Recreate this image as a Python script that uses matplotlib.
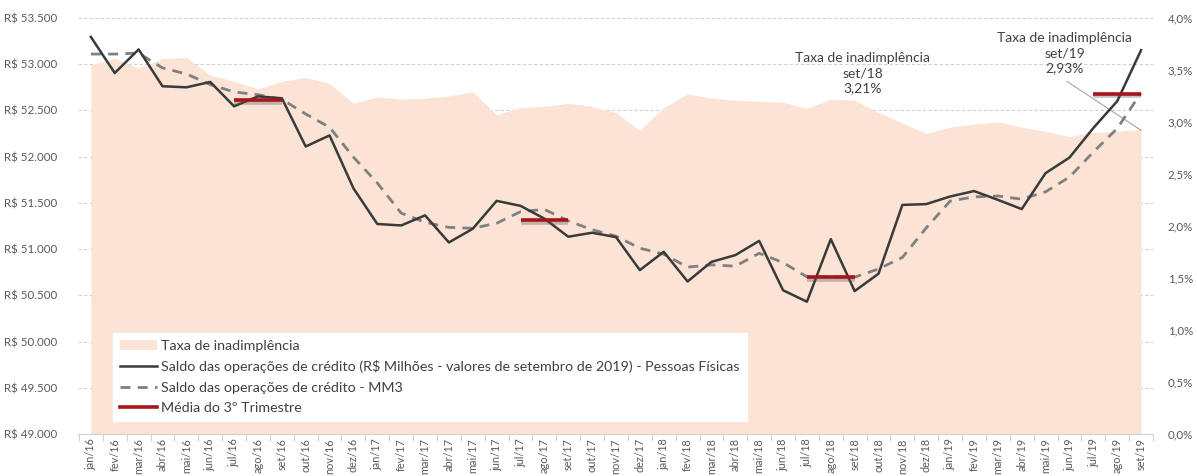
import matplotlib
matplotlib.use("Agg")
import matplotlib.pyplot as plt
from matplotlib.lines import Line2D
from matplotlib.patches import Patch
from matplotlib.transforms import blended_transform_factory
import matplotlib.patheffects as pe

plt.rcParams['font.family'] = ['Lato', 'DejaVu Sans']

meses = ["jan/16", "fev/16", "mar/16", "abr/16", "mai/16", "jun/16", "jul/16", "ago/16", "set/16",
         "out/16", "nov/16", "dez/16", "jan/17", "fev/17", "mar/17", "abr/17", "mai/17", "jun/17",
         "jul/17", "ago/17", "set/17", "out/17", "nov/17", "dez/17", "jan/18", "fev/18", "mar/18",
         "abr/18", "mai/18", "jun/18", "jul/18", "ago/18", "set/18", "out/18", "nov/18", "dez/18",
         "jan/19", "fev/19", "mar/19", "abr/19", "mai/19", "jun/19", "jul/19", "ago/19", "set/19"]

saldo = [53295, 52905, 53160, 52762, 52750, 52808, 52545, 52652, 52632, 52110, 52230, 51658,
         51272, 51256, 51365, 51072, 51220, 51522, 51468, 51330, 51134, 51177, 51130, 50773,
         50971, 50650, 50862, 50935, 51089, 50555, 50431, 51108, 50546, 50734, 51478, 51487,
         51569, 51628, 51533, 51433, 51822, 51990, 52310, 52600, 53152]

mm3 = [53110, 53110, 53120, 52960, 52895, 52780, 52700, 52670, 52620, 52462, 52318, 51995,
       51715, 51390, 51290, 51235, 51225, 51280, 51405, 51430, 51305, 51210, 51140, 51010,
       50945, 50805, 50830, 50815, 50955, 50855, 50700, 50700, 50697, 50785, 50910, 51230,
       51520, 51565, 51575, 51540, 51620, 51780, 52050, 52305, 52690]

taxa = [3.55, 3.61, 3.52, 3.61, 3.62, 3.45, 3.39, 3.32, 3.39, 3.43, 3.37, 3.18,
        3.24, 3.22, 3.23, 3.25, 3.29, 3.07, 3.14, 3.15, 3.18, 3.15, 3.09, 2.92,
        3.14, 3.27, 3.23, 3.21, 3.20, 3.19, 3.13, 3.22, 3.21, 3.09, 2.99, 2.89,
        2.95, 2.98, 3.00, 2.95, 2.91, 2.86, 2.90, 2.91, 2.93]

media_inicio = [6, 18, 30, 42]
media_fim = [8, 20, 32, 44]
media_valor = [52612, 51312, 50700, 52682]

left_ticks = [49000, 49500, 50000, 50500, 51000, 51500, 52000, 52500, 53000, 53500]
right_ticks = [0.0, 0.5, 1.0, 1.5, 2.0, 2.5, 3.0, 3.5, 4.0]

TXT = "#404040"
TICK = "#595959"
PEACH = "#FBE4D6"

fig = plt.figure(figsize=(11.97, 4.76), dpi=100)
ax = fig.add_axes([78/1197, 42/476, 1075/1197, 416/476])
ax2 = ax.twinx()

x = list(range(len(meses)))

# area (right axis)
ax.fill_between(x, taxa, 0, color=PEACH, linewidth=0, zorder=2)
ax.set_ylim(0, 4.0)
ax.set_xlim(-0.54, 44.33)
ax.yaxis.tick_right()
ax.set_yticks(right_ticks)
ax.set_yticklabels([("%.1f%%" % v).replace(".", ",") for v in right_ticks])
ax.tick_params(axis='y', length=0, pad=10.5, labelsize=8.3, labelcolor=TICK)

# lines (left axis)
ax2.set_ylim(49000, 53500)
ax2.yaxis.tick_left()
ax2.set_yticks(left_ticks)
ax2.set_yticklabels(["R$ " + f"{v:,}".replace(",", ".") for v in left_ticks])
ax2.tick_params(axis='y', length=0, pad=15, labelsize=8.3, labelcolor=TICK)

# gridlines behind area
tr = blended_transform_factory(ax.transAxes, ax2.transData)
for v in left_ticks[1:]:
    ax.plot([0, 1], [v, v], transform=tr, color="#d0d0d0", lw=0.8,
            linestyle=(0, (3, 2)), zorder=1, clip_on=False)

ax2.plot(x, mm3, color="#808080", lw=2.0, linestyle=(0, (3.6, 2.6)), zorder=3)
ax2.plot(x, saldo, color="#3a3a3a", lw=1.8, zorder=4)
for a, b, v in zip(media_inicio, media_fim, media_valor):
    ax2.plot([a, b], [v, v], color="#A5151B", lw=2.6, zorder=5, solid_capstyle='butt',
             path_effects=[pe.SimpleLineShadow(offset=(0, -2), shadow_color='#555555', alpha=0.35),
                           pe.Normal()])

# x axis
ax.set_xticks(x)
ax.set_xticklabels(meses, rotation=90, fontsize=7.8, color=TICK, va='top')
ax.set_xticks([i - 0.5 for i in range(len(meses) + 1)], minor=True)
ax.tick_params(axis='x', which='major', length=0, pad=3)
ax.tick_params(axis='x', which='minor', length=5, color="#d0d0d0", width=0.8)
ax2.tick_params(axis='x', length=0)
for s in ["top", "left", "right"]:
    ax.spines[s].set_visible(False)
    ax2.spines[s].set_visible(False)
ax2.spines["bottom"].set_visible(False)
ax.spines["bottom"].set_color("#d0d0d0")
ax.spines["bottom"].set_linewidth(0.8)

# annotations
ax2.text(32.33, 52905, "Taxa de inadimplência\nset/18\n3,21%", ha='center', va='center',
         fontsize=10, color=TXT, linespacing=1.35, zorder=6)
ax2.text(40.8, 53121, "Taxa de inadimplência\nset/19\n2,93%", ha='center', va='center',
         fontsize=10, color=TXT, linespacing=1.35, zorder=6, clip_on=False)
ax.plot([40.9, 44.0], [3.39, 2.92], color="#a6a6a6", lw=0.8, zorder=6)

handles = [Patch(facecolor=PEACH, edgecolor='none'),
           Line2D([], [], color="#3a3a3a", lw=1.8),
           Line2D([], [], color="#808080", lw=2.0, linestyle=(0, (3.6, 2.6))),
           Line2D([], [], color="#A5151B", lw=2.6)]
labels = ["Taxa de inadimplência",
          "Saldo das operações de crédito (R$ Milhões - valores de setembro de 2019) - Pessoas Físicas",
          "Saldo das operações de crédito - MM3",
          "Média do 3º Trimestre"]
leg = ax2.legend(handles, labels, loc='lower left', bbox_to_anchor=(0.0326, 0.031),
                 borderaxespad=0, frameon=True, fancybox=False, framealpha=1,
                 edgecolor='white', facecolor='white', fontsize=10.3, labelcolor=TXT,
                 handlelength=2.6, handletextpad=0.25, labelspacing=0.58,
                 borderpad=0.5)
leg.set_zorder(10)

fig.savefig("out.png", dpi=100)
